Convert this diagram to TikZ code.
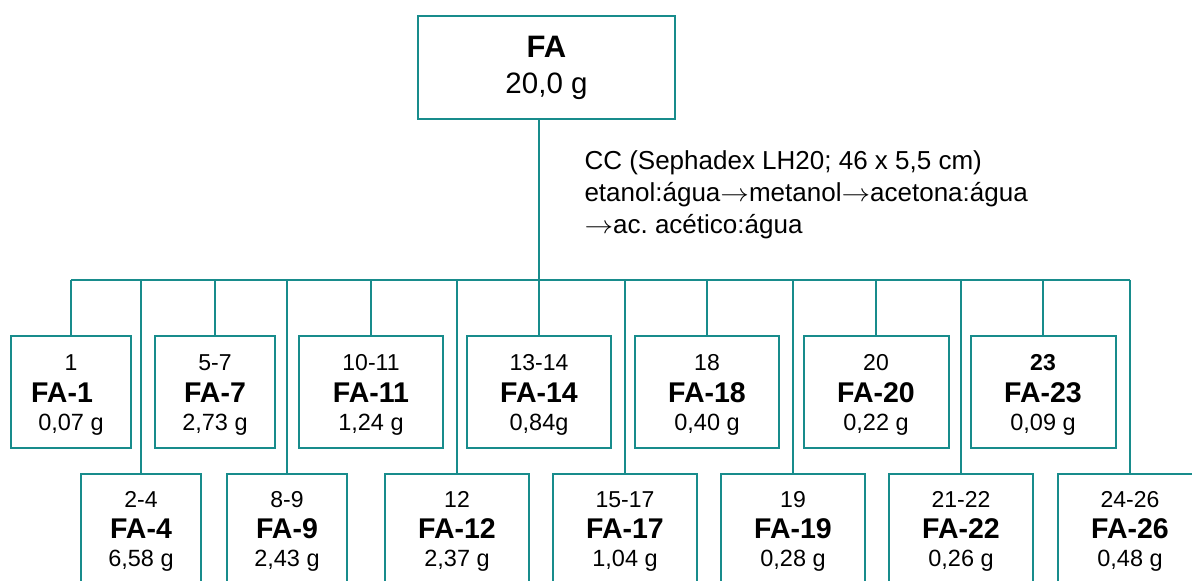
\documentclass[tikz,border=0pt]{standalone}
\usepackage{fontspec}
\setmainfont{Liberation Sans}
\definecolor{fateal}{RGB}{24,140,140}
\newcommand{\elarrow}{\scalebox{1.15}[1]{$\rightarrow$}}
\tikzset{
  fabox/.style={rectangle, draw=fateal, line width=2pt, inner sep=0pt},
  falink/.style={draw=fateal, line width=2pt},
  rangetxt/.style={anchor=base, font=\fontsize{23}{26}\selectfont},
  nametxt/.style={anchor=base, font=\fontsize{28.5}{32}\selectfont\bfseries},
  masstxt/.style={anchor=base, font=\fontsize{23.5}{27}\selectfont},
}
\begin{document}
\begin{tikzpicture}[x=1pt, y=-1pt]
  \useasboundingbox (0,0) rectangle (1192,581);

  % Starting fraction
  \node[fabox, minimum width=257pt, minimum height=103pt] (fa) at (546.5,67.5) {};
  \node[nametxt, font=\fontsize{31}{34}\selectfont\bfseries] (fa-name) at (546.5,57) {FA};
  \node[masstxt, font=\fontsize{29.5}{33}\selectfont] (fa-mass) at (546.5,93) {20,0 g};

  % Column conditions
  \node[anchor=base west, align=left, font=\fontsize{26}{32}\selectfont] (cc) at (581,233)
    {CC (Sephadex LH20; 46 x 5,5 cm)\\etanol:água\elarrow metanol\elarrow acetona:água\\\elarrow ac.\ acético:água};

  % Bus
  \coordinate (busL) at (71,280);
  \coordinate (busR) at (1130,280);
  \coordinate (split) at (539,280);
  \draw[falink] (busL) -- (busR);
  \draw[falink] (split |- fa.south) -- (split);

  % Upper row of fractions
  \foreach \i/\cx/\w/\dx/\rng/\nm/\ms in {1/71/120/-9/1/FA-1/{0,07 g}, 2/215/120/0/5-7/FA-7/{2,73 g},
      3/371/144/0/10-11/FA-11/{1,24 g}, 4/539/144/0/13-14/FA-14/{0,84g}, 5/707/144/0/18/FA-18/{0,40 g},
      6/876/145/0/20/FA-20/{0,22 g}, 7/1043/145/0/\textbf{23}/FA-23/{0,09 g}}{
    \node[fabox, minimum width=\w pt, minimum height=112pt] (t\i) at (\cx,392) {};
    \node[rangetxt] (t\i-rng) at (\cx,370) {\rng};
    \node[nametxt] (t\i-nm) at (\cx+\dx,402) {\nm};
    \node[masstxt] (t\i-ms) at (\cx,430) {\ms};
    \draw[falink] (t\i.north) -- (t\i.north |- busL);
  }

  % Lower row of fractions
  \foreach \i/\cx/\w/\rng/\nm/\ms in {1/141/120/2-4/FA-4/{6,58 g}, 2/287/120/8-9/FA-9/{2,43 g},
      3/457/144/12/FA-12/{2,37 g}, 4/625/144/15-17/FA-17/{1,04 g}, 5/793/144/19/FA-19/{0,28 g},
      6/961/144/21-22/FA-22/{0,26 g}, 7/1130/144/24-26/FA-26/{0,48 g}}{
    \node[fabox, minimum width=\w pt, minimum height=112pt] (b\i) at (\cx,530) {};
    \node[rangetxt] (b\i-rng) at (\cx,507) {\rng};
    \node[nametxt] (b\i-nm) at (\cx,538) {\nm};
    \node[masstxt] (b\i-ms) at (\cx,566) {\ms};
    \draw[falink] (b\i.north) -- (b\i.north |- busL);
  }
\end{tikzpicture}
\end{document}
